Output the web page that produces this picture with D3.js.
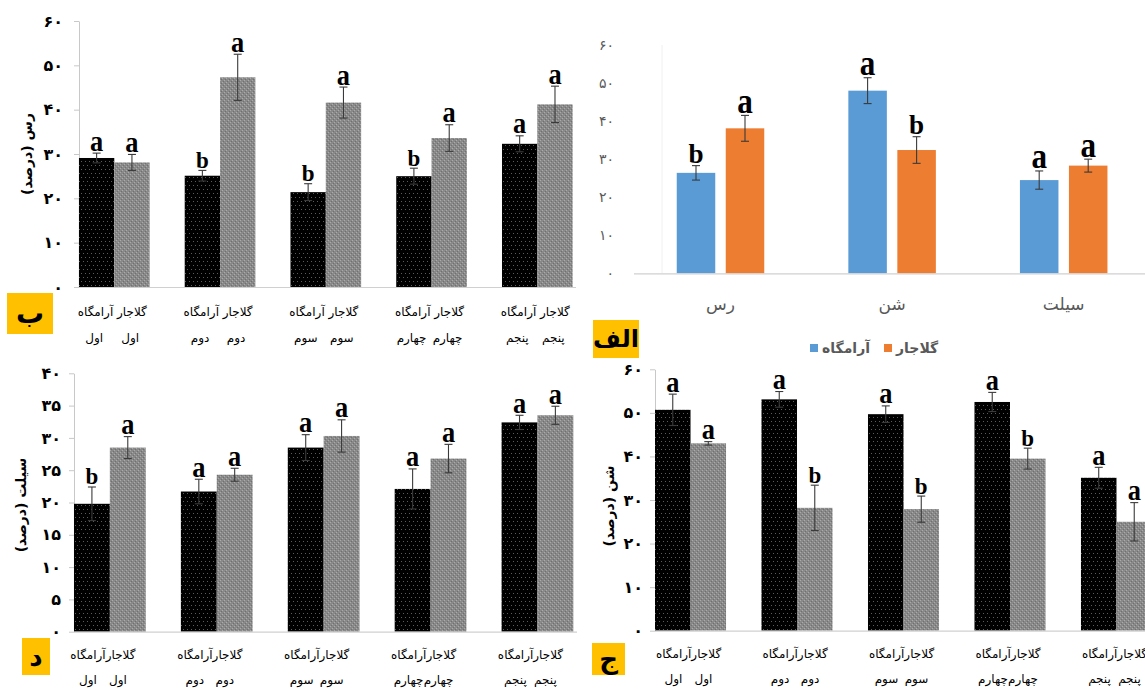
<!DOCTYPE html>
<html>
<head>
<meta charset="utf-8">
<script src="https://cdn.jsdelivr.net/npm/d3@7"></script>
<style>
  html, body { margin: 0; padding: 0; background: #fff; }
  svg { display: block; }
  .fa { font-family: "DejaVu Sans", sans-serif; direction: rtl; unicode-bidi: embed; }
  .sig { font-family: "Liberation Serif", "Times New Roman", serif; font-weight: bold; }
</style>
</head>
<body>
<script>
// ---- categories and labels ----
const siteNames = ["آرامگاه", "گلاجار"];
const textureClasses = ["رس", "شن", "سیلت"];
const horizonNames = ["اول", "دوم", "سوم", "چهارم", "پنجم"];
const ticks60 = [0, 10, 20, 30, 40, 50, 60];
const ticks60Labels = ["۰", "۱۰", "۲۰", "۳۰", "۴۰", "۵۰", "۶۰"];
const ticks40 = [0, 5, 10, 15, 20, 25, 30, 35, 40];
const ticks40Labels = ["۰", "۵", "۱۰", "۱۵", "۲۰", "۲۵", "۳۰", "۳۵", "۴۰"];

// ---- الف: mean texture of each site (%) ----
const meanAramgah = [26.4, 48.0, 24.5];
const meanAramgahErr = [1.9, 3.4, 2.4];
const meanAramgahSig = ["b", "a", "a"];
const meanGolajar = [38.1, 32.4, 28.3];
const meanGolajarErr = [3.4, 3.5, 1.7];
const meanGolajarSig = ["a", "b", "a"];

// ---- ب: clay by horizon (%) ----
const clayAramgah = [29.1, 25.1, 21.4, 25.0, 32.3];
const clayAramgahErr = [1.1, 1.2, 1.9, 1.8, 1.8];
const clayAramgahSig = ["a", "b", "b", "b", "a"];
const clayGolajar = [28.1, 47.3, 41.6, 33.6, 41.2];
const clayGolajarErr = [1.8, 5.2, 3.5, 3.0, 4.1];
const clayGolajarSig = ["a", "a", "a", "a", "a"];

// ---- ج: sand by horizon (%) ----
const sandAramgah = [50.7, 53.1, 49.7, 52.5, 35.1];
const sandAramgahErr = [3.6, 1.8, 1.9, 2.2, 2.4];
const sandAramgahSig = ["a", "a", "a", "a", "a"];
const sandGolajar = [43.0, 28.2, 27.9, 39.5, 25.0];
const sandGolajarErr = [0.4, 5.2, 3.0, 2.4, 4.4];
const sandGolajarSig = ["a", "b", "b", "b", "a"];

// ---- د: silt by horizon (%) ----
const siltAramgah = [19.8, 21.7, 28.5, 22.1, 32.4];
const siltAramgahErr = [2.6, 1.9, 2.0, 3.1, 1.1];
const siltAramgahSig = ["b", "a", "a", "a", "a"];
const siltGolajar = [28.5, 24.3, 30.3, 26.8, 33.5];
const siltGolajarErr = [1.7, 1.0, 2.5, 2.2, 1.4];
const siltGolajarSig = ["a", "a", "a", "a", "a"];

const W = 1145, H = 695;
const svg = d3.select("body").append("svg").attr("width", W).attr("height", H);

// ---- fill textures ----
const defs = svg.append("defs");
const dots = defs.append("pattern").attr("id", "dotBlack")
  .attr("width", 8).attr("height", 8).attr("patternUnits", "userSpaceOnUse");
dots.append("rect").attr("width", 8).attr("height", 8).attr("fill", "#000");
[[1, 1], [5, 1], [3, 5], [7, 5]].forEach(([px, py]) =>
  dots.append("rect").attr("x", px).attr("y", py).attr("width", 1).attr("height", 1).attr("fill", "#5c5c5c"));
const grain = defs.append("pattern").attr("id", "grayGrain")
  .attr("width", 4).attr("height", 4).attr("patternUnits", "userSpaceOnUse");
grain.append("rect").attr("width", 4).attr("height", 4).attr("fill", "#898989");
[[0, 0], [2, 2]].forEach(([px, py]) =>
  grain.append("rect").attr("x", px).attr("y", py).attr("width", 1).attr("height", 1).attr("fill", "#ababab"));
[[1, 3], [3, 1]].forEach(([px, py]) =>
  grain.append("rect").attr("x", px).attr("y", py).attr("width", 1).attr("height", 1).attr("fill", "#707070"));

// significance letter: 'a' is drawn with a taller x-height than the serif default
function sigLetter(g, letter, x, baseY, k) {
  const isA = letter === "a";
  g.append("text").attr("class", "sig")
    .attr("text-anchor", "middle")
    .attr("font-size", isA ? 24 : 23)
    .attr("fill", "#000")
    .attr("transform", `translate(${x},${baseY}) scale(${(isA ? 1.1 : 1.0) * k},${(isA ? 1.24 : 1.0) * k})`)
    .text(letter);
}

function drawPanel(cfg) {
  const g = svg.append("g");
  const y = d3.scaleLinear().domain([0, cfg.yMax]).range([cfg.yBottom, cfg.yTop]);
  const x0 = d3.scaleBand().domain(d3.range(cfg.categories.length))
    .range(cfg.xRange).paddingInner(cfg.padIn).paddingOuter(cfg.padOut);
  const x1 = d3.scaleBand().domain(d3.range(cfg.series.length))
    .range([0, x0.bandwidth()]).paddingInner(cfg.barGap);

  // value axis
  const axis = d3.axisLeft(y).tickValues(cfg.ticks)
    .tickFormat((d, i) => cfg.tickLabels[i])
    .tickSize(cfg.tickSize).tickSizeOuter(0).tickPadding(cfg.tickPad);
  const ga = g.append("g").attr("transform", `translate(${cfg.axisX},0)`).call(axis);
  ga.select(".domain").attr("stroke", cfg.showDomain ? "#c8c8c8" : "none");
  ga.selectAll(".tick line").attr("stroke", "#c8c8c8");
  ga.selectAll(".tick text")
    .attr("font-family", "DejaVu Sans, sans-serif")
    .attr("font-size", cfg.tickFont)
    .attr("font-weight", cfg.tickBold ? "bold" : "normal")
    .attr("fill", cfg.tickColor);

  if (cfg.ghostX) {
    g.append("line").attr("x1", cfg.ghostX).attr("x2", cfg.ghostX)
      .attr("y1", y(cfg.yMax)).attr("y2", y(0)).attr("stroke", "#f0f0f0");
  }

  // bars
  cfg.series.forEach((s, si) => {
    g.append("g").selectAll("rect").data(s.values).join("rect")
      .attr("x", (d, i) => x0(i) + x1(si))
      .attr("width", x1.bandwidth())
      .attr("y", d => y(d))
      .attr("height", d => y(0) - y(d))
      .attr("fill", s.fill);
  });

  // category axis line
  g.append("line")
    .attr("x1", cfg.baseStart).attr("x2", cfg.baseEnd)
    .attr("y1", y(0) + 0.5).attr("y2", y(0) + 0.5)
    .attr("stroke", "#d0d0d0").attr("stroke-width", 1.2);

  // error bars and letters
  cfg.series.forEach((s, si) => {
    s.values.forEach((v, i) => {
      const cx = x0(i) + x1(si) + x1.bandwidth() / 2;
      const hi = y(v + s.errors[i]), lo = y(v - s.errors[i]);
      const eb = g.append("g").attr("stroke", "#3a3a3a").attr("stroke-width", 1.1);
      eb.append("line").attr("x1", cx).attr("x2", cx).attr("y1", hi).attr("y2", lo);
      eb.append("line").attr("x1", cx - 4).attr("x2", cx + 4).attr("y1", hi).attr("y2", hi);
      eb.append("line").attr("x1", cx - 4).attr("x2", cx + 4).attr("y1", lo).attr("y2", lo);
      sigLetter(g, s.letters[i], cx, hi - 2.5, cfg.letterScale);
    });
  });

  // category labels
  if (cfg.labelMode === "classes") {
    cfg.categories.forEach((c, i) => {
      g.append("text").attr("class", "fa")
        .attr("x", x0(i) + x0.bandwidth() / 2).attr("y", cfg.labelY)
        .attr("text-anchor", "middle").attr("dominant-baseline", "central")
        .attr("font-size", 17).attr("font-weight", "normal").attr("fill", "#595959")
        .text(c);
    });
  } else {
    cfg.categories.forEach((c, i) => {
      const cx = x0(i) + x0.bandwidth() / 2 + cfg.labelShift;
      g.append("text").attr("class", "fa")
        .attr("x", cx).attr("y", cfg.labelY)
        .attr("text-anchor", "middle").attr("dominant-baseline", "central")
        .attr("font-size", cfg.labelFont).attr("fill", "#000")
        .text(siteNames[1] + cfg.joiner + siteNames[0]);
      [-1, 1].forEach(side => {
        g.append("text").attr("class", "fa")
          .attr("x", cx + side * cfg.wordHalfSep).attr("y", cfg.label2Y)
          .attr("text-anchor", "middle").attr("dominant-baseline", "central")
          .attr("font-size", cfg.labelFont).attr("fill", "#000")
          .text(c);
      });
    });
  }

  // value axis title
  if (cfg.title) {
    g.append("text").attr("class", "fa")
      .attr("transform", `translate(${cfg.titleX},${cfg.titleY}) rotate(-90)`)
      .attr("text-anchor", "middle").attr("dominant-baseline", "central")
      .attr("font-size", 14).attr("font-weight", "bold").attr("fill", "#000")
      .text(cfg.title);
  }

  // panel tag
  g.append("rect").attr("x", cfg.tag.x).attr("y", cfg.tag.y)
    .attr("width", cfg.tag.w).attr("height", cfg.tag.h).attr("fill", "#FFC000");
  g.append("text").attr("class", "fa")
    .attr("x", cfg.tag.x + cfg.tag.w / 2).attr("y", cfg.tag.y + cfg.tag.h / 2)
    .attr("text-anchor", "middle").attr("dominant-baseline", "central")
    .attr("font-size", cfg.tag.font).attr("font-weight", "bold").attr("fill", "#000")
    .text(cfg.tag.text);
  return { g, x0, y };
}

// ب — clay
drawPanel({
  categories: horizonNames, yMax: 60, yBottom: 287, yTop: 21,
  xRange: [61.4, 590.2], padIn: 0.332, padOut: 0.166, barGap: 0,
  ticks: ticks60, tickLabels: ticks60Labels, tickSize: 5, tickPad: 11,
  tickFont: 16, tickBold: true, tickColor: "#000", showDomain: true, axisX: 79,
  baseStart: 79, baseEnd: 576,
  series: [
    { values: clayAramgah, errors: clayAramgahErr, letters: clayAramgahSig, fill: "url(#dotBlack)" },
    { values: clayGolajar, errors: clayGolajarErr, letters: clayGolajarSig, fill: "url(#grayGrain)" }
  ],
  letterScale: 1, labelMode: "horizons", joiner: " ",
  labelY: 312, label2Y: 338, labelShift: -2, wordHalfSep: 18, labelFont: 12,
  title: "رس (درصد)", titleX: 27, titleY: 154,
  tag: { x: 7, y: 293, w: 46, h: 41, text: "ب", font: 28 }
});

// الف — site means
drawPanel({
  categories: textureClasses, yMax: 60, yBottom: 273.3, yTop: 45,
  xRange: [634.7, 1149.5], padIn: 0.49, padOut: 0.245, barGap: 0.214,
  ticks: ticks60, tickLabels: ticks60Labels, tickSize: 0, tickPad: 20,
  tickFont: 14, tickBold: false, tickColor: "#595959", showDomain: false, axisX: 634,
  ghostX: 662, baseStart: 634, baseEnd: 1145,
  series: [
    { values: meanAramgah, errors: meanAramgahErr, letters: meanAramgahSig, fill: "#5B9BD5" },
    { values: meanGolajar, errors: meanGolajarErr, letters: meanGolajarSig, fill: "#ED7D31" }
  ],
  letterScale: 1.18, labelMode: "classes", labelY: 304,
  tag: { x: 593, y: 320, w: 46, h: 38, text: "الف", font: 24 }
});

// legend for الف
const legend = svg.append("g");
const legendItems = [
  { name: siteNames[0], color: "#5B9BD5", x: 810 },
  { name: siteNames[1], color: "#ED7D31", x: 884 }
];
legendItems.forEach(it => {
  legend.append("rect").attr("x", it.x).attr("y", 344).attr("width", 8).attr("height", 8).attr("fill", it.color);
  legend.append("text").attr("class", "fa")
    .attr("x", it.x + 12).attr("y", 348).attr("dominant-baseline", "central")
    .attr("text-anchor", "end").attr("font-size", 14).attr("font-weight", "bold").attr("fill", "#595959")
    .text(it.name);
});

// د — silt
drawPanel({
  categories: horizonNames, yMax: 40, yBottom: 631.7, yTop: 373.3,
  xRange: [56.4, 590.9], padIn: 0.329, padOut: 0.1645, barGap: 0,
  ticks: ticks40, tickLabels: ticks40Labels, tickSize: 5, tickPad: 8,
  tickFont: 16, tickBold: true, tickColor: "#000", showDomain: true, axisX: 74,
  baseStart: 74, baseEnd: 577,
  series: [
    { values: siltAramgah, errors: siltAramgahErr, letters: siltAramgahSig, fill: "url(#dotBlack)" },
    { values: siltGolajar, errors: siltGolajarErr, letters: siltGolajarSig, fill: "url(#grayGrain)" }
  ],
  letterScale: 1, labelMode: "horizons", joiner: "",
  labelY: 655, label2Y: 680, labelShift: -7, wordHalfSep: 15, labelFont: 12,
  title: "سیلت (درصد)", titleX: 21, titleY: 505,
  tag: { x: 22, y: 638, w: 28, h: 37, text: "د", font: 26 }
});

// ج — sand
drawPanel({
  categories: horizonNames, yMax: 60, yBottom: 630.7, yTop: 369.3,
  xRange: [637.25, 1169.75], padIn: 0.333, padOut: 0.1667, barGap: 0,
  ticks: ticks60, tickLabels: ticks60Labels, tickSize: 5, tickPad: 7,
  tickFont: 16, tickBold: true, tickColor: "#000", showDomain: true, axisX: 655,
  baseStart: 655, baseEnd: 1145,
  series: [
    { values: sandAramgah, errors: sandAramgahErr, letters: sandAramgahSig, fill: "url(#dotBlack)" },
    { values: sandGolajar, errors: sandGolajarErr, letters: sandGolajarSig, fill: "url(#grayGrain)" }
  ],
  letterScale: 1, labelMode: "horizons", joiner: "",
  labelY: 654, label2Y: 679, labelShift: -2, wordHalfSep: 15, labelFont: 12,
  title: "شن (درصد)", titleX: 609, titleY: 506,
  tag: { x: 592, y: 643, w: 33, h: 32, text: "ج", font: 26 }
});
</script>
</body>
</html>
